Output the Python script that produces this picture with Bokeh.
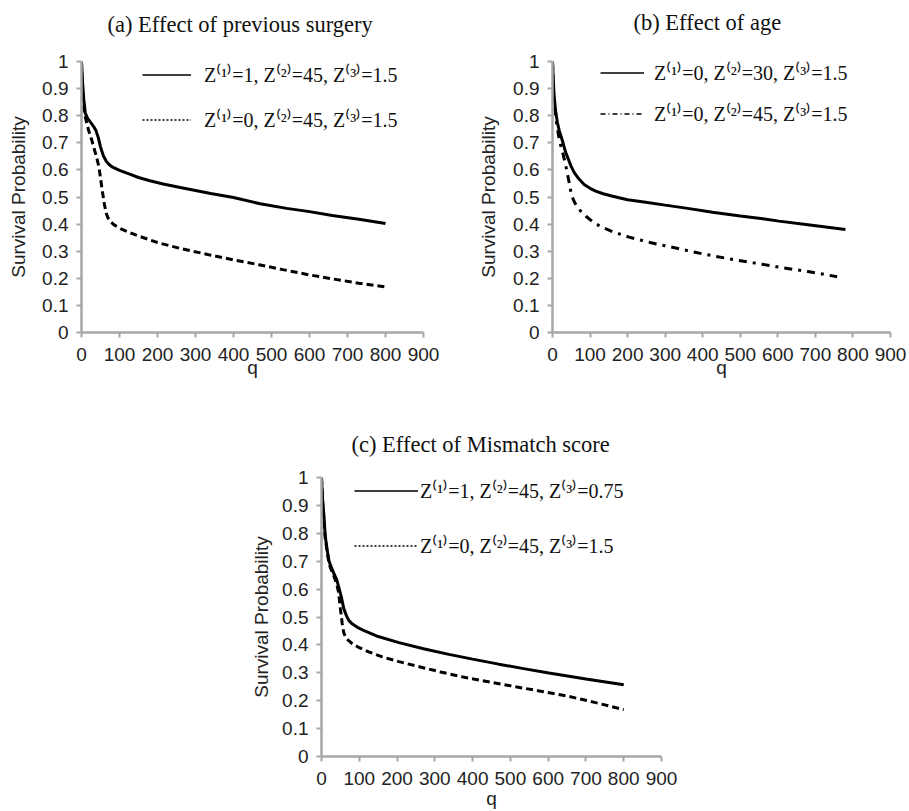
from bokeh.plotting import figure
from bokeh.layouts import column, row
from bokeh.models import Range1d, FixedTicker, NumeralTickFormatter, Legend, LegendItem, Title
from bokeh.embed import file_html
from bokeh.resources import INLINE

# ---------------- data ----------------
x_ticks = [0, 100, 200, 300, 400, 500, 600, 700, 800, 900]
y_ticks = [0, 0.1, 0.2, 0.3, 0.4, 0.5, 0.6, 0.7, 0.8, 0.9, 1.0]

titles = ["(a) Effect of previous surgery", "(b) Effect of age", "(c) Effect of Mismatch score"]
x_label = "q"
y_label = "Survival Probability"

a_labels = ["Z⁽¹⁾=1, Z⁽²⁾=45, Z⁽³⁾=1.5", "Z⁽¹⁾=0, Z⁽²⁾=45, Z⁽³⁾=1.5"]
b_labels = ["Z⁽¹⁾=0, Z⁽²⁾=30, Z⁽³⁾=1.5", "Z⁽¹⁾=0, Z⁽²⁾=45, Z⁽³⁾=1.5"]
c_labels = ["Z⁽¹⁾=1, Z⁽²⁾=45, Z⁽³⁾=0.75", "Z⁽¹⁾=0, Z⁽²⁾=45, Z⁽³⁾=1.5"]

a1_q = [0, 3, 6, 10, 16, 24, 32, 38, 44, 50, 58, 66, 74, 82, 100, 125, 150, 180, 215, 260, 300, 340, 400, 470, 540, 600, 660, 730, 800]
a1_s = [1.0, 0.92, 0.86, 0.81, 0.79, 0.775, 0.76, 0.745, 0.72, 0.685, 0.65, 0.63, 0.618, 0.61, 0.598, 0.585, 0.572, 0.56, 0.548, 0.535, 0.524, 0.513, 0.498, 0.475, 0.458, 0.446, 0.432, 0.418, 0.402]

a2_q = [0, 2, 5, 10, 15, 20, 27, 33, 40, 46, 50, 55, 60, 65, 72, 85, 100, 125, 150, 200, 260, 335, 400, 467, 530, 598, 660, 730, 800]
a2_s = [1.0, 0.9, 0.84, 0.795, 0.765, 0.74, 0.71, 0.68, 0.645, 0.61, 0.57, 0.52, 0.475, 0.44, 0.415, 0.398, 0.385, 0.37, 0.356, 0.332, 0.31, 0.287, 0.268, 0.25, 0.232, 0.213, 0.198, 0.182, 0.168]

b1_q = [0, 4, 8, 13, 18, 22, 28, 35, 42, 49, 58, 70, 85, 100, 115, 135, 160, 200, 248, 300, 360, 426, 500, 560, 603, 680, 780]
b1_s = [1.0, 0.88, 0.82, 0.775, 0.745, 0.727, 0.7, 0.665, 0.64, 0.615, 0.59, 0.567, 0.545, 0.532, 0.522, 0.512, 0.503, 0.49, 0.481, 0.47, 0.458, 0.444, 0.43, 0.42, 0.411, 0.398, 0.38]

b2_q = [0, 3, 9, 18, 27, 35, 44, 50, 57, 65, 75, 90, 110, 130, 160, 204, 260, 337, 400, 470, 540, 603, 680, 758]
b2_s = [1.0, 0.88, 0.79, 0.71, 0.665, 0.618, 0.556, 0.51, 0.485, 0.465, 0.448, 0.428, 0.405, 0.39, 0.372, 0.352, 0.332, 0.309, 0.29, 0.272, 0.256, 0.241, 0.225, 0.206]

c1_q = [0, 3, 6, 10, 15, 20, 27, 33, 40, 46, 52, 59, 66, 72, 80, 95, 116, 150, 205, 270, 337, 400, 469, 535, 602, 700, 800]
c1_s = [1.0, 0.92, 0.87, 0.79, 0.74, 0.70, 0.675, 0.655, 0.635, 0.605, 0.575, 0.53, 0.505, 0.488, 0.477, 0.463, 0.449, 0.43, 0.408, 0.386, 0.366, 0.349, 0.331, 0.315, 0.299, 0.278, 0.257]

c2_q = [0, 3, 6, 10, 15, 20, 27, 33, 40, 45, 50, 55, 59, 65, 72, 81, 100, 125, 161, 205, 249, 315, 381, 450, 514, 580, 646, 720, 800]
c2_s = [1.0, 0.91, 0.86, 0.78, 0.735, 0.69, 0.665, 0.645, 0.62, 0.59, 0.53, 0.475, 0.443, 0.425, 0.415, 0.405, 0.39, 0.375, 0.357, 0.34, 0.325, 0.303, 0.283, 0.266, 0.25, 0.234, 0.218, 0.195, 0.168]

SANS = "Liberation Sans"
SERIF = "Liberation Serif"
AXIS_GRAY = "#a6a6a6"
NAN = float("nan")


def make_panel(width, height, bl, br, bt, bb, title, title_offset, title_gap,
               ylabel_standoff, xlabel_standoff):
    p = figure(width=width, height=height, output_backend="svg", toolbar_location=None,
               x_range=Range1d(0, 900), y_range=Range1d(0, 1),
               min_border_left=bl, min_border_right=br, min_border_top=bt, min_border_bottom=bb)
    p.outline_line_color = None
    p.grid.visible = False
    p.title = None
    # blank spacer between the frame and the title, then the title itself
    p.add_layout(Title(text=" ", text_font_size="1px", standoff=title_gap), "above")
    p.add_layout(Title(text=title, text_font=SERIF, text_font_size="22.5px",
                       text_font_style="normal", text_color="#111111",
                       align="left", offset=title_offset, standoff=0), "above")

    for ax in (p.xaxis[0], p.yaxis[0]):
        ax.axis_line_color = AXIS_GRAY
        ax.axis_line_width = 2.5
        ax.major_tick_line_color = AXIS_GRAY
        ax.major_tick_line_width = 2
        ax.major_tick_in = 0
        ax.major_tick_out = 5
        ax.minor_tick_line_color = None
        ax.major_label_text_font = SANS
        ax.major_label_text_font_size = "19px"
        ax.major_label_text_color = "#222222"
        ax.axis_label_text_font = SANS
        ax.axis_label_text_font_size = "19px"
        ax.axis_label_text_font_style = "normal"
        ax.axis_label_text_color = "#222222"
    p.xaxis.ticker = FixedTicker(ticks=x_ticks)
    p.yaxis.ticker = FixedTicker(ticks=y_ticks)
    p.yaxis.formatter = NumeralTickFormatter(format="0.[0]")
    p.xaxis.formatter = NumeralTickFormatter(format="0")
    p.xaxis.axis_label = x_label
    p.yaxis.axis_label = y_label
    p.xaxis.major_label_standoff = 10
    p.xaxis.axis_label_standoff = xlabel_standoff
    p.yaxis.major_label_standoff = 8
    p.yaxis.axis_label_standoff = ylabel_standoff
    return p


def add_legend(p, labels, styles, loc, glyph_w, spacing, standoff):
    items = []
    for lab, st in zip(labels, styles):
        r = p.line(x=[NAN], y=[NAN], line_color="black", **st)
        items.append(LegendItem(label=lab, renderers=[r]))
    leg = Legend(items=items, location=loc, orientation="vertical",
                 glyph_width=glyph_w, glyph_height=25, label_height=25,
                 spacing=spacing, label_standoff=standoff, padding=0, margin=0,
                 border_line_color=None, background_fill_alpha=0,
                 label_text_font=SERIF, label_text_font_size="20px",
                 label_text_color="#111111")
    p.add_layout(leg, "center")


solid_leg = dict(line_width=1.6)
dotted_leg = dict(line_width=1.3, line_dash="2 2")
dashdot_leg = dict(line_width=1.6, line_dash="5 3 1 3")

# ---------- panel (a) ----------
pa = make_panel(470, 390, 81, 47, 61, 57, titles[0], 26, 22, 10, -7)
pa.line(a1_q, a1_s, line_color="black", line_width=3)
pa.line(a2_q, a2_s, line_color="black", line_width=3, line_dash="7 4")
add_legend(pa, a_labels, [solid_leg, dotted_leg], (61, 199.5), 49, 18, 13)

# ---------- panel (b) ----------
pb = make_panel(439, 390, 82, 19, 61, 58, titles[1], 81, 24, 11, -7)
pb.line(b1_q, b1_s, line_color="black", line_width=3)
pb.line(b2_q, b2_s, line_color="black", line_width=3, line_dash="8 6 3 6")
add_legend(pb, b_labels, [solid_leg, dashdot_leg], (48, 205.5), 44, 14, 10)

# ---------- panel (c) ----------
pc = make_panel(713, 421, 321, 52, 87, 53, titles[2], 30, 18, 7, 0)
pc.line(c1_q, c1_s, line_color="black", line_width=3)
pc.line(c2_q, c2_s, line_color="black", line_width=3, line_dash="7 4")
add_legend(pc, c_labels, [solid_leg, dotted_leg], (33, 197.5), 64, 28, 2)

layout = column(row(pa, pb), pc)
open("out.html", "w").write(file_html(layout, INLINE))
